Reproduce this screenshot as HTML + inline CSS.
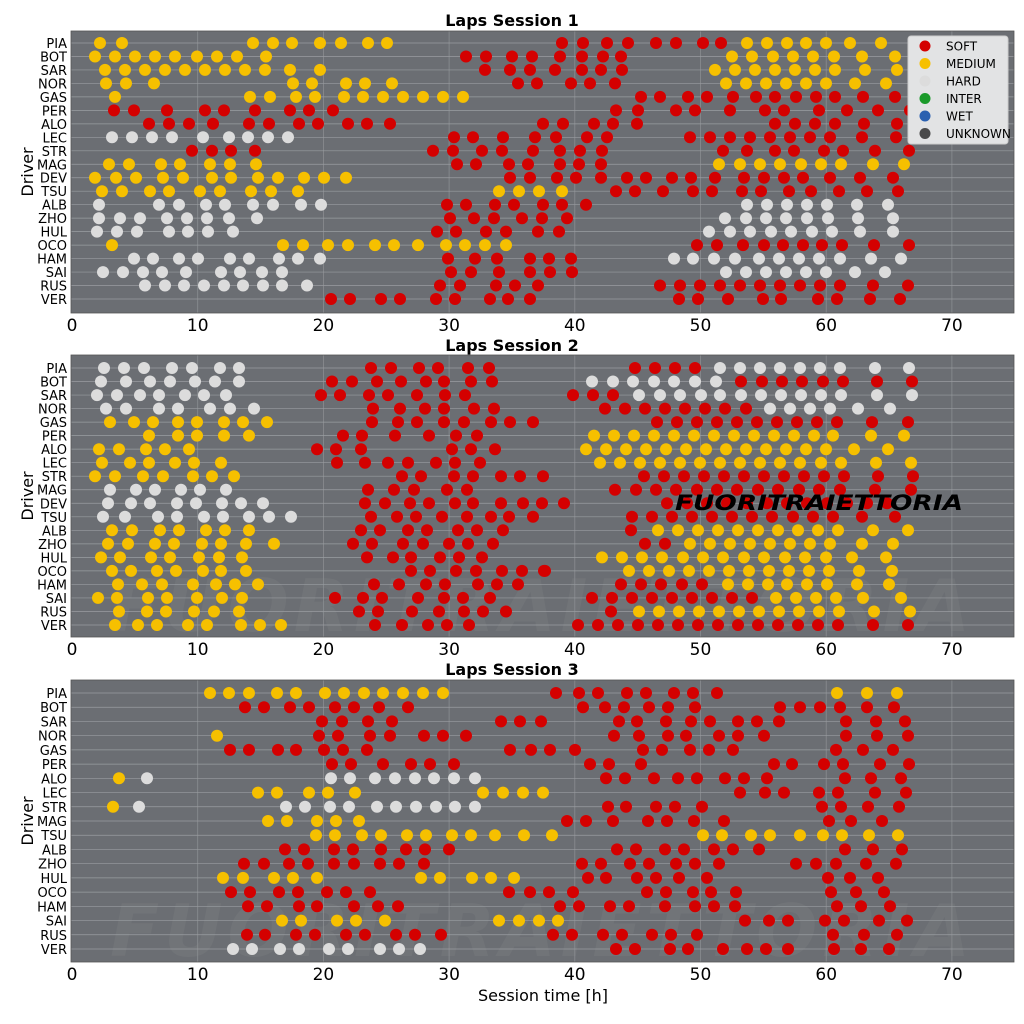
<!DOCTYPE html>
<html><head><meta charset="utf-8"><style>
html,body{margin:0;padding:0;background:#fff;}
svg{display:block;font-family:"DejaVu Sans","Liberation Sans",sans-serif;}
</style></head><body>
<svg id="s" width="1024" height="1024" viewBox="0 0 1024 1024" xmlns="http://www.w3.org/2000/svg">
<rect width="1024" height="1024" fill="#fff"/>
<g id="panels"></g>
<text x="512" y="26" text-anchor="middle" font-size="16" font-weight="bold" fill="#000">Laps Session 1</text>
<text x="512" y="351" text-anchor="middle" font-size="16" font-weight="bold" fill="#000">Laps Session 2</text>
<text x="512" y="675" text-anchor="middle" font-size="16" font-weight="bold" fill="#000">Laps Session 3</text>
<text transform="translate(33,172) rotate(-90)" text-anchor="middle" font-size="16" fill="#000">Driver</text>
<text transform="translate(33,496) rotate(-90)" text-anchor="middle" font-size="16" fill="#000">Driver</text>
<text transform="translate(33,821) rotate(-90)" text-anchor="middle" font-size="16" fill="#000">Driver</text>
<text x="543" y="1001" text-anchor="middle" font-size="16" fill="#000">Session time [h]</text>
</svg>
<script>
var D1=["PIA","BOT","SAR","NOR","GAS","PER","ALO","LEC","STR","MAG","DEV","TSU","ALB","ZHO","HUL","OCO","HAM","SAI","RUS","VER"];
var D3=["PIA","BOT","SAR","NOR","GAS","PER","ALO","LEC","STR","MAG","TSU","ALB","ZHO","HUL","OCO","HAM","SAI","RUS","VER"];
var C={R:"#d40000",Y:"#f6c000",H:"#dcdcdc"};
var P1=[
"Y:100,122,253,273,292,320,341,368,387|R:562,583,607,628,656,676,703,721|Y:747,767,787,806,826,850,881",
"Y:95,115,135,155,175,197,217,237,266|R:466,486,512,532,560,582,603,621|Y:732,752,773,793,813,834,862,895",
"Y:105,125,145,165,185,205,225,245,265,290,320|R:485,510,530,555,582,601,622|Y:715,735,755,775,795,815,835,865,897",
"Y:106,126,154,293,312,346,365,392|R:518,537,571,590,615|Y:726,746,766,786,806,826,855,886",
"Y:115,250,270,296,315,344,363,383,403,423,443,463|R:641,660,688,707,733,756,775,796,816,835,863,895",
"R:114,134,167,205,224,255,290,309,333,616,638,676,695,730,765,784,819,847,878,910",
"R:149,169,189,213,249,269,299,318,348,367,390,543,563,594,613,637,775,795,815,835,864,897",
"H:112,132,152,172,203,229,248,268,288|R:454,473,503,535,556,587,607,690,710,730,750,770,790,810,830,862,896",
"R:192,212,231,255,433,453,482,502,533,560,580,602,723,747,775,794,824,843,875,909",
"Y:109,129,161,180,210,230,256|R:457,476,509,528,560,579,601|Y:719,740,760,780,801,821,841,873,904",
"Y:95,116,136,163,183,212,231,258,278,304,324,346|R:510,530,557,576,601,627,646,672,691,715,744,764,784,803,830,860,893",
"Y:102,122,150,169,200,220,251,271,298,499,519,539,562|R:616,635,663,693,712,742,761,789,811,839,867,898",
"H:99,159,179,206,225,253,273,301,321|R:447,466,495,514,543,562,586|H:747,767,787,807,827,857,888",
"H:99,120,140,167,187,207,229,257|R:450,474,494,522,542,567|H:725,746,766,786,807,828,858,893",
"H:97,117,137,169,188,208,233|R:437,456,486,506,538,559|H:709,730,750,771,791,812,832,860,893",
"Y:112,283,303,328,348,375,394,418,446,465,485,506|R:697,717,743,764,783,803,822,842,874,909",
"H:134,153,179,198,230,249,279,298,320|R:448,475,497,530,549,571|H:674,693,714,735,759,779,799,819,840,871,901",
"H:103,123,143,162,186,221,240,262,282|R:451,471,499,530,550,572|H:726,746,766,786,806,826,855,885",
"H:145,165,184,204,224,243,263,282,307|R:440,460,496,515,538,660,680,700,720,740,760,780,800,820,840,873,908",
"R:331,350,381,400,436,455,490,508,530,679,698,728,763,781,818,837,870,900"];
var P2=[
"H:104,124,144,172,192,220,239|R:371,391,419,438,468,489,635,655,675,695|H:720,740,760,780,800,820,840,875,909",
"H:101,126,150,170,195,215,239|R:332,352,377,401,426,444,471,492|H:592,613,633,654,674,695,716|R:741,762,782,802,823,843,877,912",
"H:97,117,140,159,185,204,226|R:321,340,369,388,417,445,465,573,593,613|H:639,660,680,701,720,741,761,781,801,821,841,877,912",
"H:106,126,159,178,210,230,254|R:373,400,425,444,474,494,605,625,645,665,685,705,725,746|H:770,790,810,830,858,890",
"Y:110,134,153,178,197,224,243,267|R:372,398,417,444,464,491,510,533,657,677,697,717,737,757,777,797,817,837,872,908",
"Y:149,178,197,224,249|R:343,362,395,429,456,477|Y:594,614,634,654,674,694,714,734,754,774,794,814,833,871,904",
"Y:99,119,146,165,189|R:317,336,361,452,471,495|Y:586,606,626,646,666,686,706,726,746,766,786,806,826,854,888",
"Y:102,130,149,175,194,221|R:337,365,388,408,436,455,480|Y:600,620,640,660,680,700,720,740,760,780,800,821,841,876,911",
"Y:95,115,143,163,193,212,234|R:402,421,454,473,501,520,543,644,664,684,704,724,744,764,784,804,824,844,878,913",
"H:110,136,155,181,200,226|R:368,394,414,447,467,615,636,656,676,697,717,737,758,778,799,819,840,875,911",
"H:108,131,150,177,196,222,241,263|R:365,385,410,429,455,473,501,523,542,564,667,687,707,727,747,767,787,807,827,847,867,887",
"H:103,125,158,177,204,223,249,269,291|R:371,397,416,442,467,491,509,533,632,652,672,692,712,732,752,772,793,813,833,862,895",
"Y:112,132,160,179,206,225,249|R:361,380,408,427,458,477,503,631|Y:658,678,698,718,738,758,778,798,818,838,873,908",
"Y:108,128,155,174,202,221,246,274|R:353,372,403,423,449,468,493,645,665|Y:690,710,730,750,770,790,810,830,862,893",
"Y:101,120,151,170,199,219,242|R:367,393,411,440,459,482|Y:602,622,642,662,683,703,723,744,764,785,805,826,852,886",
"Y:112,131,157,176,203,221,246|R:411,430,456,476,502,522,544,545|Y:629,649,669,689,709,729,749,769,789,809,829,859,892",
"Y:118,142,162,193,216,235,258|R:374,399,426,445,478,497,518,621,641,661,682,702|Y:728,748,768,787,807,827,857,889",
"Y:98,117,148,167,197,222,242|R:335,363,382,418,444,463,490,592,612,632,652,672,692,712,732,752|Y:776,796,816,836,863,901",
"Y:119,147,166,194,214,239|R:359,378,412,439,464,483,506,611|Y:639,659,679,699,719,739,759,779,799,819,839,874,910",
"Y:115,138,157,188,207,241,260,281|R:375,402,428,447,469,578,598,618,638,658,678,698,718,738,758,778,798,818,838,873,908"];
var P3=[
"Y:210,229,249,277,296,325,344,364,383,403,423,443|R:556,579,598,627,646,674,693,717|Y:837,867,897",
"R:245,264,290,309,335,354,379,408,583,605,624,649,668,695,780,800,820,840,867,894",
"R:322,342,368,392,501,520,541,619,637,666,691,710,738,757,779,846,876,905",
"Y:217|R:319,338,370,390,424,443,466,614,639,668,686,719,738,764,846,877,908",
"R:230,249,278,296,324,343,367,510,531,550,575,643,662,690,709,733,836,863,893",
"R:332,351,383,411,430,454,590,609,641,774,792,824,843,880,909",
"Y:119|H:147,331,350,375,395,415,434,454,475|R:606,625,654,678,697,725,744,767,845,871,901",
"Y:258,277,309,328,355,483,503,523,543|R:740,765,784,819,838,875,906",
"Y:113|H:139,286,305,330,349,377,396,416,436,455,475|R:608,626,656,675,702,822,841,868,899",
"Y:268,287,317,336,359|R:567,586,613,648,667,694,724,829,851,882",
"Y:316,335,362,381,407,426,452,471,495,524,552,703,722,751,770,800,823,842,869,898",
"R:285,304,334,353,381,406,425,449,617,636,665,684,714,733,759,845,873,902",
"R:244,264,289,308,334,354,380,399,424,582,601,630,649,676,695,719,796,816,836,866,896",
"Y:223,243,274,293,317,421,440,472,491,514|R:588,606,637,656,679,707,828,850,878",
"R:231,250,279,298,327,346,370,509,530,549,573,647,666,693,711,736,831,856,884",
"R:248,267,299,317,354,378,398,560,579,610,629,665,695,714,735,837,861,890",
"Y:282,301,337,356,385,499,519,539,558|R:745,769,788,825,844,879,907",
"R:247,265,296,315,346,365,396,415,441,553,572,603,622,652,671,697,833,864,897",
"H:233,252,280,299,329,348,380,399,420|R:616,635,670,688,723,747,766,788,834,861,889"];
var NS="http://www.w3.org/2000/svg";
var g=document.getElementById("panels");
function el(t,a,txt){var e=document.createElementNS(NS,t);for(var k in a)e.setAttribute(k,a[k]);if(txt!=null)e.textContent=txt;g.appendChild(e);return e;}
var L=71,R=1014,X0=72,PX=12.57;
function panel(top,bot,y0,y1,data,names,legend,logo,wm){
  el("rect",{x:L,y:top,width:R-L,height:bot-top,fill:"#6b6e73"});
  if(wm){el("text",{x:110,y:bot-6,"font-size":"72","font-weight":"bold","font-style":"italic",fill:"#717478",textLength:"860"},"FUORITRAIETTORIA");}
  var n=data.length,st=(y1-y0)/(n-1);
  for(var v=10;v<=70;v+=10){var x=X0+v*PX;el("line",{x1:x,y1:top,x2:x,y2:bot,stroke:"#8a8d91","stroke-width":"0.8"});}
  for(var i=0;i<n;i++){var y=y0+i*st;el("line",{x1:L,y1:y,x2:R,y2:y,stroke:"#9a9da1","stroke-width":"0.7"});
    el("text",{x:67,y:y+5,"text-anchor":"end","font-size":"13",fill:"#000"},names[i]);}
  for(var v=0;v<=70;v+=10){el("text",{x:X0+v*PX,y:bot+18,"text-anchor":"middle","font-size":"17",fill:"#000"},String(v));}
  for(var i=0;i<n;i++){var y=y0+i*st;data[i].split("|").forEach(function(s){var p=s.split(":");p[1].split(",").forEach(function(xx){el("circle",{cx:xx,cy:y.toFixed(1),r:"6",fill:C[p[0]]});});});}
  el("rect",{x:L,y:top,width:R-L,height:bot-top,fill:"none",stroke:"#555","stroke-width":"0.8"});
  if(logo){el("text",{x:675,y:510,"font-size":"21","font-weight":"bold","font-style":"italic",fill:"#000",textLength:"288",lengthAdjust:"spacingAndGlyphs"},"FUORITRAIETTORIA");}
  if(legend){
    el("rect",{x:908,y:36,width:100,height:108,rx:3,fill:"#e2e3e4",stroke:"#ccc"});
    var items=[["SOFT","#d40000"],["MEDIUM","#f6c000"],["HARD","#dcdcdc"],["INTER","#1a9a2a"],["WET","#2a60b0"],["UNKNOWN","#4a4a4a"]];
    items.forEach(function(it,k){var y=46+k*17.5;el("circle",{cx:925,cy:y,r:"5.5",fill:it[1]});el("text",{x:946,y:y+4.5,"font-size":"12",fill:"#000"},it[0]);});
  }
}
panel(31,313,43,299,P1,D1,true,false,false);
panel(355,637,368,625,P2,D1,false,true,true);
panel(680,962,693,949,P3,D3,false,false,true);
</script>
</body></html>
